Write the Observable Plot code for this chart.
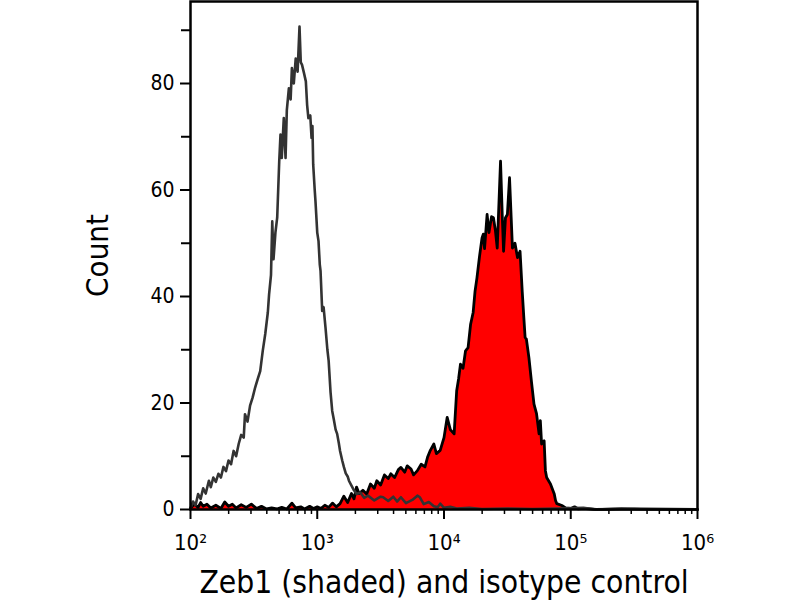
<!DOCTYPE html>
<html>
<head>
<meta charset="utf-8">
<script src="https://cdn.jsdelivr.net/npm/d3@7"></script>
<script src="https://cdn.jsdelivr.net/npm/@observablehq/plot@0.6"></script>
<style>
  html, body { margin: 0; padding: 0; background: #fff; }
  #chart { width: 800px; height: 600px; }
</style>
</head>
<body>
<div id="chart"></div>
<script>
// Isotype control (grey line): log10 intensity and count
const isoLog = [2.00,2.02,2.04,2.06,2.08,2.10,2.12,2.145,2.16,2.18,2.20,2.22,2.24,2.26,2.28,2.30,2.32,2.34,2.36,2.38,2.40,2.42,2.43,2.45,2.47,2.49,2.51,2.53,2.55,2.57,2.59,2.61,2.62,2.635,2.645,2.655,2.67,2.684,2.70,2.71,2.72,2.736,2.75,2.76,2.776,2.79,2.80,2.815,2.83,2.845,2.86,2.87,2.88,2.895,2.91,2.92,2.93,2.945,2.955,2.962,2.968,2.98,2.986,3.00,3.01,3.02,3.026,3.039,3.05,3.065,3.08,3.09,3.105,3.118,3.13,3.145,3.157,3.17,3.18,3.197,3.21,3.225,3.24,3.25,3.27,3.29,3.31,3.34,3.37,3.40,3.45,3.50,3.52,3.56,3.60,3.63,3.66,3.70,3.75,3.79,3.81,3.84,3.88,3.92,3.95,3.97,4.00,4.05,4.10,4.20,4.30,4.50,4.70,4.90,5.10,5.20,5.40,5.60,6.00];
const isoCount = [0.3,1.5,0.8,2.9,2.0,4.0,3.0,5.4,4.2,6.0,5.2,6.7,6.0,8.0,7.2,9.2,8.5,11.0,10.0,12.3,14.0,13.5,17.9,16.5,19.5,21.0,22.9,24.5,26.0,29.8,33.0,37.0,40.4,44.0,54.1,47.0,52.0,54.8,65.4,70.4,66.0,73.5,66.0,75.0,79.1,77.0,82.9,80.0,84.7,82.2,90.7,84.0,83.5,82.0,80.4,76.0,73.5,74.0,69.8,72.0,64.8,60.0,57.9,52.0,50.4,46.0,44.8,37.3,38.0,34.2,30.0,27.9,22.0,18.5,17.0,15.0,14.2,12.5,11.0,9.2,8.0,6.8,6.2,5.4,4.5,3.6,2.9,3.2,2.2,2.6,1.7,2.4,2.3,1.6,2.4,1.5,2.3,1.2,1.8,2.6,2.3,1.0,1.4,0.6,0.4,1.1,0.3,0.5,0.2,0.3,0.1,0.2,0.1,0.2,0.3,0.0,0.2,0.0,0.0];

// Zeb1 (shaded red, black outline): log10 intensity and count
const zebLog = [2.00,2.03,2.06,2.08,2.10,2.13,2.16,2.20,2.24,2.27,2.30,2.33,2.36,2.40,2.44,2.48,2.52,2.56,2.60,2.64,2.68,2.72,2.76,2.80,2.83,2.87,2.90,2.94,2.97,3.00,3.03,3.06,3.09,3.12,3.15,3.18,3.21,3.24,3.27,3.29,3.31,3.33,3.36,3.39,3.42,3.45,3.47,3.50,3.53,3.56,3.58,3.61,3.64,3.66,3.69,3.71,3.74,3.76,3.79,3.82,3.85,3.87,3.89,3.92,3.94,3.97,4.00,4.025,4.05,4.08,4.10,4.115,4.13,4.15,4.17,4.19,4.21,4.23,4.245,4.26,4.28,4.30,4.31,4.32,4.34,4.355,4.375,4.39,4.405,4.42,4.446,4.46,4.47,4.485,4.50,4.517,4.54,4.56,4.58,4.60,4.617,4.63,4.64,4.65,4.67,4.69,4.71,4.73,4.75,4.76,4.77,4.79,4.80,4.81,4.84,4.87,4.88,4.89,4.93,4.96,5.00,5.03,5.06,5.10,5.20,5.50,6.00];
const zebCount = [0.2,1.0,0.4,1.3,0.6,1.0,0.3,0.8,0.2,1.4,0.6,1.0,0.3,0.9,0.4,1.0,0.2,0.6,0.1,0.3,0.1,0.4,0.1,1.2,0.3,0.5,0.1,0.6,0.2,0.5,0.2,0.8,0.4,1.2,0.5,1.1,2.5,1.3,3.0,2.0,4.2,3.0,3.6,2.9,4.8,4.0,5.4,4.6,6.5,5.8,6.7,6.0,7.5,7.9,7.0,8.2,7.6,6.5,7.3,8.5,8.0,9.8,11.0,12.3,10.5,11.1,13.5,17.3,15.0,14.2,22.3,24.5,27.3,26.5,29.8,30.4,34.8,37.0,41.0,43.5,47.5,51.0,51.7,49.0,55.4,52.0,55.0,54.8,52.5,49.1,65.4,55.0,48.5,54.8,55.4,62.3,49.1,50.0,47.3,48.5,41.0,36.0,32.3,32.0,28.5,24.0,19.8,18.0,14.2,16.7,12.3,12.9,7.3,6.0,4.8,2.9,1.7,1.1,0.75,0.3,0.2,0.5,0.1,0.2,0.0,0.1,0.0];

const xMajor = [1e2, 1e3, 1e4, 1e5, 1e6];
const xMajorLabels = ["10²", "10³", "10⁴", "10⁵", "10⁶"];
const yMajor = [0, 20, 40, 60, 80];
const yMinor = [10, 30, 50, 70, 90];

const iso = isoLog.map((e, i) => ({x: Math.pow(10, e), y: isoCount[i]}));
const zeb = zebLog.map((e, i) => ({x: Math.pow(10, e), y: zebCount[i]}));
const xMinor = [];
for (let d = 2; d < 6; d++) for (let k = 2; k <= 9; k++) xMinor.push(k * Math.pow(10, d));

const font = "'DejaVu Sans Condensed', 'DejaVu Sans', sans-serif";

const chart = Plot.plot({
  width: 800,
  height: 600,
  marginLeft: 190,
  marginRight: 103,
  marginTop: 1,
  marginBottom: 91,
  style: {fontFamily: font, background: "white", color: "black"},
  x: {type: "log", domain: [1e2, 1e6]},
  y: {domain: [0, 95.4]},
  marks: [
    Plot.areaY(zeb, {x: "x", y: "y", fill: "#ff0000"}),
    Plot.lineY(zeb, {x: "x", y: "y", stroke: "black", strokeWidth: 2.8}),
    Plot.lineY(iso, {x: "x", y: "y", stroke: "#333333", strokeWidth: 2.6}),
    Plot.frame({stroke: "black", strokeWidth: 2.5}),
    Plot.axisY({ticks: yMajor, tickSize: 10, tickPadding: 6, fontSize: 21, label: null, strokeWidth: 2}),
    Plot.axisY({ticks: yMinor, tickSize: 9, tickFormat: () => "", label: null, strokeWidth: 2}),
    Plot.axisX({ticks: xMajor, tickSize: 10, tickPadding: 15, fontSize: 22, label: null, strokeWidth: 2,
      tickFormat: d => xMajorLabels[xMajor.indexOf(d)]}),
    Plot.axisX({ticks: xMinor, tickSize: 5, tickFormat: () => "", label: null, strokeWidth: 1.5}),
    Plot.text(["Zeb1 (shaded) and isotype control"], {frameAnchor: "bottom", dy: 73, fontSize: 31.5, lineAnchor: "middle", textAnchor: "middle", fill: "black"}),
    Plot.text(["Count"], {frameAnchor: "left", dx: -92, rotate: -90, fontSize: 31, lineAnchor: "middle", textAnchor: "middle", fill: "black"})
  ]
});
document.getElementById("chart").appendChild(chart);
</script>
</body>
</html>
